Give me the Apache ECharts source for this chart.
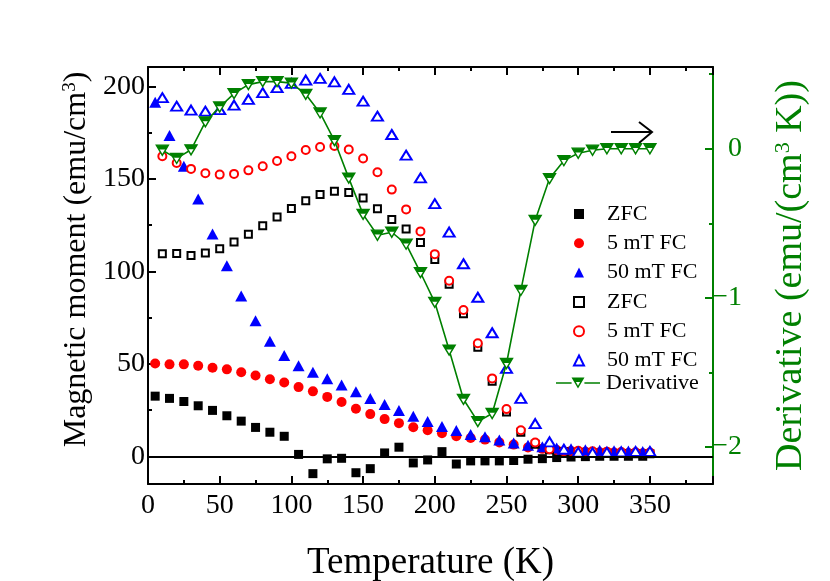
<!DOCTYPE html>
<html>
<head>
<meta charset="utf-8">
<script src="https://cdn.jsdelivr.net/npm/echarts@6/dist/echarts.min.js"></script>
<style>
html, body { margin: 0; padding: 0; background: #fff; }
#chart { width: 830px; height: 581px; }
</style>
</head>
<body>
<div id="chart"></div>
<script>
var myChart = echarts.init(document.getElementById('chart'));

// temperatures (K)
var tFilled = [5, 15, 25, 35, 45, 55, 65, 75, 85, 95, 105, 115, 125, 135, 145, 155, 165, 175,
    185, 195, 205, 215, 225, 235, 245, 255, 265, 275, 285, 295, 305, 315, 325, 335, 345];
var tOpen = [10, 20, 30, 40, 50, 60, 70, 80, 90, 100, 110, 120, 130, 140, 150, 160, 170, 180,
    190, 200, 210, 220, 230, 240, 250, 260, 270, 280, 290, 300, 310, 320, 330, 340, 350];

// magnetic moment (emu/cm3), filled symbols
var zfcFilled = [32.5, 31.3, 29.6, 27.3, 24.8, 21.9, 19.0, 15.6, 13.0, 10.8, 1.0, -9.4, -1.4, -1.1,
    -8.9, -6.7, 1.8, 4.9, -3.6, -2.0, 2.5, -4.2, -2.5, -2.5, -2.5, -2.3, -1.6, -1.3, -0.7, -0.4,
    -0.2, 0, 0, 0, 0];
var fc5Filled = [50.2, 49.7, 49.7, 48.9, 47.9, 47.0, 45.4, 43.7, 41.6, 39.9, 37.4, 35.1, 32.1, 29.3,
    25.7, 22.8, 20.1, 17.9, 15.7, 14.1, 12.5, 10.8, 9.9, 9.0, 7.5, 6.3, 4.8, 4.0, 3.4, 2.9, 2.5,
    2.2, 2.0, 1.8, 1.6];
var fc50Filled = [191.5, 173.4, 156.8, 139.1, 120.2, 103, 86.7, 73.3, 62.2, 54.5, 49, 45.4, 41.9, 38.5,
    34.9, 31.3, 28.0, 24.8, 21.7, 18.8, 16.1, 13.9, 11.8, 10.5, 8.8, 7.2, 6.0, 5.1, 4.5, 4.0, 3.5,
    3.2, 3.0, 2.8, 2.6];

// open symbols
var zfcOpen = [109.5, 109.7, 108.6, 109.9, 112.2, 115.8, 120, 124.7, 129.4, 134, 138.2, 141.6, 143.3,
    142.7, 139.6, 133.9, 128.1, 122.9, 115.6, 106.4, 93, 77, 59, 40.5, 24, 13, 6.5, 3.5, 2.4, 2.0,
    1.8, 1.6, 1.5, 1.4, 1.3];
var fc5Open = [162.2, 158.6, 155.4, 153.0, 152.3, 152.7, 154.6, 156.8, 159.7, 162.2, 165.6, 167.2, 167.8,
    165.9, 161, 153.6, 144.2, 133.5, 121.6, 109.3, 94.9, 79.1, 61.1, 42.1, 25.5, 14.1, 7.4, 3.8,
    2.7, 3.0, 2.7, 2.5, 2.3, 2.2, 2.0];
var fc50Open = [193.9, 189.3, 187.2, 186.6, 187.5, 189.9, 193, 196.6, 199.3, 201.6, 203.4, 204.3, 202.5,
    198.4, 192, 183.9, 174, 162.8, 150.5, 136.6, 121.2, 104.1, 86, 66.8, 47.5, 31.3, 17.7, 7.8,
    3.8, 2.2, 2.0, 2.2, 2.4, 2.6, 2.6];

// derivative, emu/(cm3 K), right axis
var derivative = [-0.01, -0.065, -0.007, 0.18, 0.28, 0.37, 0.43, 0.45, 0.45, 0.44, 0.365, 0.24, 0.055,
    -0.197, -0.44, -0.58, -0.56, -0.64, -0.83, -1.03, -1.35, -1.68, -1.83, -1.775, -1.44, -0.95,
    -0.48, -0.2, -0.08, -0.03, -0.01, 0, 0, 0, 0];

var legendLabels = ['ZFC', '5 mT FC', '50 mT FC', 'ZFC', '5 mT FC', '50 mT FC', 'Derivative'];
var xLabels = [0, 50, 100, 150, 200, 250, 300, 350];
var leftLabels = [0, 50, 100, 150, 200];
var leftMinor = [25, 75, 125, 175];
var rightLabels = [-2, -1, 0];
var rightMinor = [-1.5, -0.5, 0.5];

var FONT = 'Liberation Serif';
var GREEN = '#008000';
// down triangle outline, and its filled top band (tiny tail keeps the triangle's box)
var triOutline = 'path://M0,0L20,0L10,17.3Z';
var triTop = 'path://M0,0L20,0L15.6,7.6L4.4,7.6Z M10,17.2L10.02,17.3L9.98,17.3Z';
// legend icon: line with half filled down triangle
var derivIcon = 'path://M0,4.7L15.6,4.7L15.6,6.2L0,6.2Z M28.4,4.7L44,4.7L44,6.2L28.4,6.2Z ' +
    'M15.5,0L28.5,0L22,11Z M19.9,4.6L22,8.3L24.1,4.6Z';

function pairs(xs, ys) {
    var res = [];
    for (var i = 0; i < xs.length; i++) res.push([xs[i], ys[i]]);
    return res;
}
function sid(i) { return legendLabels[i] + '#' + i; }

var filledStyle = function (c) { return { color: c, borderWidth: 0, opacity: 1 }; };
var openStyle = function (c) { return { color: '#fff', borderColor: c, borderWidth: 2, opacity: 1 }; };
var legendText = function (pad) {
    return { fontFamily: FONT, fontSize: 22, lineHeight: 22, color: '#000', padding: [0, 0, 0, pad] };
};

option = {
    animation: false,
    backgroundColor: '#fff',
    grid: { left: 148, right: 117, top: 67, bottom: 97, outerBoundsMode: 'none' },
    legend: [
        {
            orient: 'vertical',
            left: 568,
            top: 198,
            itemWidth: 10,
            itemHeight: 10,
            itemGap: 7.3,
            data: [sid(0), sid(1), sid(2), sid(3), sid(4), sid(5)],
            formatter: function (name) { return name.split('#')[0]; },
            textStyle: legendText(18)
        },
        {
            orient: 'vertical',
            left: 551,
            top: 367,
            itemWidth: 44,
            itemHeight: 11,
            data: [{ name: sid(6), icon: derivIcon, itemStyle: { color: GREEN, borderWidth: 0, opacity: 1 } }],
            formatter: function (name) { return name.split('#')[0]; },
            textStyle: legendText(1)
        }
    ],
    xAxis: [
        {
            type: 'value', position: 'bottom', min: 0, max: 394, interval: 50,
            axisLine: { onZero: false, lineStyle: { color: '#000', width: 2 } },
            axisTick: { inside: true, length: 8, lineStyle: { color: '#000', width: 2 } },
            minorTick: { show: true, splitNumber: 2, length: 4, lineStyle: { color: '#000', width: 2 } },
            splitLine: { show: false },
            axisLabel: {
                fontFamily: FONT, fontSize: 28, color: '#000', margin: 8,
                formatter: function (v) { return xLabels.indexOf(v) >= 0 ? String(v) : ''; }
            },
            name: 'Temperature (K)', nameLocation: 'middle', nameGap: 61,
            nameTextStyle: { fontFamily: FONT, fontSize: 37, color: '#000' }
        },
        {
            type: 'value', position: 'top', min: 0, max: 394, interval: 50,
            axisLine: { onZero: false, lineStyle: { color: '#000', width: 2 } },
            axisTick: { inside: true, length: 8, lineStyle: { color: '#000', width: 2 } },
            minorTick: { show: true, splitNumber: 2, length: 4, lineStyle: { color: '#000', width: 2 } },
            splitLine: { show: false },
            axisLabel: { show: false }
        }
    ],
    yAxis: [
        {
            type: 'value', position: 'left', min: -15, max: 210.5,
            axisLine: { onZero: false, lineStyle: { color: '#000', width: 2 } },
            axisTick: { inside: true, length: 8, customValues: leftLabels, lineStyle: { color: '#000', width: 2 } },
            splitLine: { show: false },
            axisLabel: { customValues: leftLabels, fontFamily: FONT, fontSize: 28, color: '#000', margin: 3 },
            name: 'Magnetic moment (emu/cm{sup|3})', nameLocation: 'middle', nameGap: 50, nameRotate: 90,
            nameTextStyle: {
                fontFamily: FONT, fontSize: 32, color: '#000', padding: [0, 0, 0, 32],
                rich: { sup: { fontFamily: FONT, fontSize: 19, color: '#000', verticalAlign: 'top' } }
            }
        },
        {
            type: 'value', position: 'right', min: -2.248, max: 0.548,
            axisLine: { onZero: false, lineStyle: { color: GREEN, width: 2 } },
            axisTick: { inside: true, length: 8, customValues: rightLabels, lineStyle: { color: GREEN, width: 2 } },
            splitLine: { show: false },
            axisLabel: {
                customValues: rightLabels, fontFamily: FONT, fontSize: 28, color: GREEN, margin: 29, align: 'right',
                formatter: function (v) { return v < 0 ? '\u2212' + Math.abs(v) : String(v); }
            },
            name: 'Derivative (emu/(cm{sup|3} K))', nameLocation: 'middle', nameGap: 59, nameRotate: 90,
            nameTextStyle: {
                fontFamily: FONT, fontSize: 38, color: GREEN,
                rich: { sup: { fontFamily: FONT, fontSize: 22, color: GREEN, verticalAlign: 'top' } }
            }
        },
        {
            type: 'value', position: 'left', min: -15, max: 210.5,
            axisLine: { show: false, onZero: false },
            axisTick: { inside: true, length: 4, customValues: leftMinor, lineStyle: { color: '#000', width: 2 } },
            splitLine: { show: false },
            axisLabel: { show: false }
        },
        {
            type: 'value', position: 'right', min: -2.248, max: 0.548,
            axisLine: { show: false, onZero: false },
            axisTick: { inside: true, length: 4, customValues: rightMinor, lineStyle: { color: GREEN, width: 2 } },
            splitLine: { show: false },
            axisLabel: { show: false }
        }
    ],
    graphic: [
        {
            type: 'group',
            children: [
                { type: 'line', shape: { x1: 611, y1: 132, x2: 651, y2: 132 }, style: { stroke: '#000', lineWidth: 2 } },
                { type: 'polyline', shape: { points: [[639, 122], [652, 132], [639, 143]] }, style: { stroke: '#000', lineWidth: 2, fill: null } }
            ]
        }
    ],
    series: [
        {
            name: sid(0), type: 'scatter', data: pairs(tFilled, zfcFilled),
            symbol: 'rect', symbolSize: 9, itemStyle: filledStyle('#000'),
            markLine: {
                silent: true, symbol: 'none', label: { show: false }, animation: false,
                lineStyle: { color: '#000', width: 2, type: 'solid' },
                data: [{ yAxis: 0 }]
            }
        },
        {
            name: sid(1), type: 'scatter', data: pairs(tFilled, fc5Filled),
            symbol: 'circle', symbolSize: 10, itemStyle: filledStyle('#ff0000')
        },
        {
            name: sid(2), type: 'scatter', data: pairs(tFilled, fc50Filled),
            symbol: 'triangle', symbolSize: [12, 11], itemStyle: filledStyle('#0000ff')
        },
        {
            name: sid(3), type: 'scatter', data: pairs(tOpen, zfcOpen),
            symbol: 'rect', symbolSize: 7, itemStyle: openStyle('#000')
        },
        {
            name: sid(4), type: 'scatter', data: pairs(tOpen, fc5Open),
            symbol: 'circle', symbolSize: 8, itemStyle: openStyle('#ff0000')
        },
        {
            name: sid(5), type: 'scatter', data: pairs(tOpen, fc50Open),
            symbol: 'triangle', symbolSize: [11, 9], itemStyle: openStyle('#0000ff')
        },
        {
            name: sid(6), type: 'line', yAxisIndex: 1, data: pairs(tOpen, derivative),
            showSymbol: false, symbol: 'none',
            itemStyle: { color: GREEN }, lineStyle: { color: GREEN, width: 1.6 }
        },
        {
            name: 'derivOutline', type: 'scatter', yAxisIndex: 1, data: pairs(tOpen, derivative),
            symbol: triOutline, symbolSize: [12, 10], silent: true, z: 3,
            itemStyle: { color: '#fff', borderColor: GREEN, borderWidth: 1.4, opacity: 1 }
        },
        {
            name: 'derivTop', type: 'scatter', yAxisIndex: 1, data: pairs(tOpen, derivative),
            symbol: triTop, symbolSize: [12, 10], silent: true, z: 4,
            itemStyle: { color: GREEN, borderWidth: 0, opacity: 1 }
        }
    ]
};

myChart.setOption(option);
</script>
</body>
</html>
